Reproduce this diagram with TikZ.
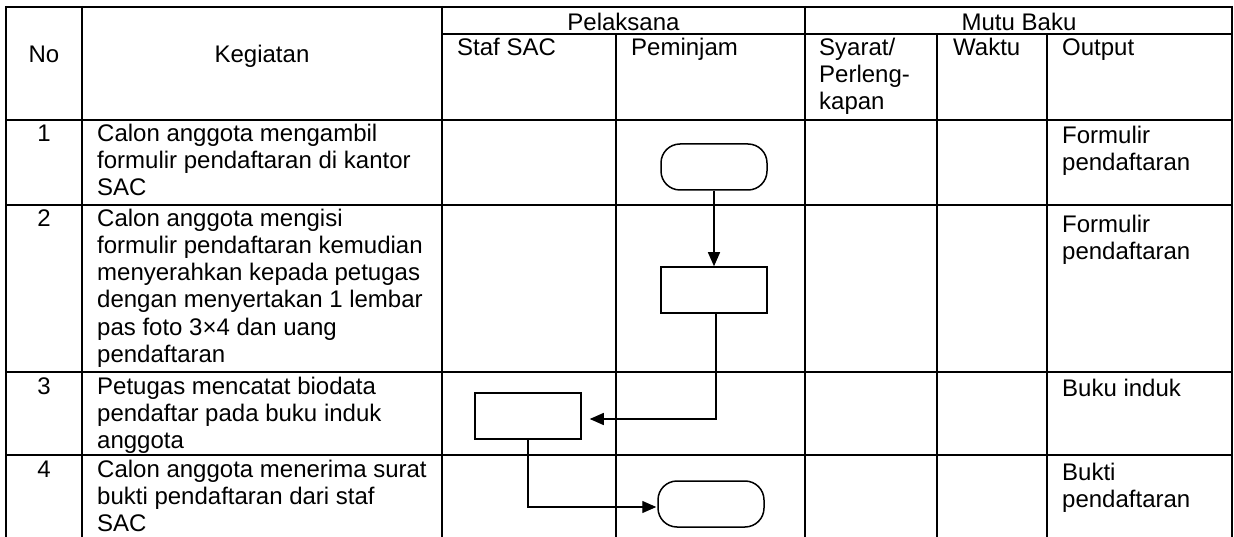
\documentclass[tikz,border=0pt]{standalone}
\usepackage{fontspec}
\setmainfont{Liberation Sans}
\usetikzlibrary{arrows.meta}
\begin{document}
\begin{tikzpicture}[x=1pt,y=-1pt,
  tline/.style={line width=1.9pt},
  txt/.style={anchor=base west, inner sep=0pt, font=\fontsize{24}{27}\selectfont},
  ctxt/.style={anchor=base, inner sep=0pt, font=\fontsize{24}{27}\selectfont},
  shapebox/.style={draw, line width=1.5pt, minimum width=106pt, minimum height=46pt, inner sep=0pt},
  procbox/.style={shapebox},
  termbox/.style={shapebox, rounded corners=19pt},
  flow/.style={line width=1.3pt, -{Triangle[length=14pt,width=12pt]}}]
\useasboundingbox (0,0) rectangle (1234,537);
\fill[white] (0,0) rectangle (1234,537);
% ---- table grid ----
\draw[tline] (5,7) -- (1233,7);
\draw[tline] (442,34) -- (1233,34);
\draw[tline] (5,120) -- (1233,120);
\draw[tline] (5,205) -- (1233,205);
\draw[tline] (5,372) -- (1233,372);
\draw[tline] (5,455) -- (1233,455);
\foreach \xx in {6,82,442,805,1232} \draw[tline] (\xx,6) -- (\xx,537);
\foreach \xx in {616,937,1047} \draw[tline] (\xx,34) -- (\xx,537);
% ---- header ----
\node[ctxt] (hNo) at (44,63) {No};
\node[ctxt] (hKeg) at (262,63) {Kegiatan};
\node[ctxt] (hPel) at (623.5,31) {Pelaksana};
\node[ctxt] (hMutu) at (1019,31) {Mutu Baku};
\node[txt] (hStaf) at (457,56) {Staf SAC};
\node[txt] (hPem) at (631,56) {Peminjam};
\foreach \t [count=\i] in {Syarat/,Perleng-,kapan}
  \node[txt] (hSy-\i) at (819,{56+27*(\i-1)}) {\t};
\node[txt] (hWaktu) at (953,56) {Waktu};
\node[txt] (hOut) at (1062,56) {Output};
% ---- numbers ----
\node[ctxt] (n1) at (44,142) {1};
\node[ctxt] (n2) at (44,227) {2};
\node[ctxt] (n3) at (44,394) {3};
\node[ctxt] (n4) at (44,477) {4};
% ---- kegiatan ----
\foreach \t [count=\i] in {Calon anggota mengambil,formulir pendaftaran di kantor,SAC}
  \node[txt] (k1-\i) at (97,{142+27*(\i-1)}) {\t};
\foreach \t [count=\i] in {Calon anggota mengisi,formulir pendaftaran kemudian,menyerahkan kepada petugas,dengan menyertakan 1 lembar,pas foto 3×4 dan uang,pendaftaran}
  \node[txt] (k2-\i) at (97,{227+27*(\i-1)}) {\t};
\foreach \t [count=\i] in {Petugas mencatat biodata,pendaftar pada buku induk,anggota}
  \node[txt] (k3-\i) at (97,{394+27*(\i-1)}) {\t};
\foreach \t [count=\i] in {Calon anggota menerima surat,bukti pendaftaran dari staf,SAC}
  \node[txt] (k4-\i) at (97,{477+27*(\i-1)}) {\t};
% ---- output ----
\foreach \t [count=\i] in {Formulir,pendaftaran}
  \node[txt] (o1-\i) at (1062,{144+27*(\i-1)}) {\t};
\foreach \t [count=\i] in {Formulir,pendaftaran}
  \node[txt] (o2-\i) at (1062,{233+27*(\i-1)}) {\t};
\node[txt] (o3) at (1062,396) {Buku induk};
\foreach \t [count=\i] in {Bukti,pendaftaran}
  \node[txt] (o4-\i) at (1062,{480+27*(\i-1)}) {\t};
% ---- flow shapes ----
\node[termbox] (t1) at (714,167) {};
\node[procbox] (p2) at (714,290) {};
\node[procbox] (p3) at (528,416) {};
\node[termbox] (t4) at (711,504) {};
% ---- connectors ----
\draw[flow] (t1.south) -- (p2.north);
\draw[flow, shorten >=8pt] ([xshift=2pt]p2.south) |- ([yshift=-3pt]p3.east);
\draw[flow, shorten >=1pt] (p3.south) |- ([yshift=-3pt]t4.west);
\end{tikzpicture}
\end{document}
